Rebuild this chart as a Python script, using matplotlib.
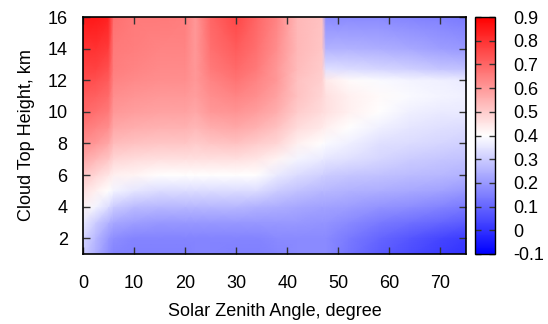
import numpy as np
import matplotlib
matplotlib.use('Agg')
from matplotlib import pyplot as plt

#%% Data
# solar zenith angle nodes (degree)
sza = [0, 2.5, 5, 6, 10, 15, 20, 22, 25, 30, 34, 38, 42, 46.8, 47.6, 52, 58, 64, 70, 75]
# cloud top height nodes (km)
cth = [1, 2, 3, 4, 5, 6, 7, 8, 9, 10, 11, 12, 12.7, 14, 16]

# one row per cloud top height, bottom to top
z_01 = [0.30, 0.24, 0.18, 0.16, 0.15, 0.15, 0.15, 0.16, 0.16, 0.15, 0.15, 0.16, 0.17, 0.17, 0.17, 0.13, 0.08, 0.05, 0.02, 0.00]
z_02 = [0.32, 0.26, 0.20, 0.18, 0.16, 0.16, 0.16, 0.16, 0.16, 0.16, 0.16, 0.17, 0.17, 0.17, 0.17, 0.14, 0.10, 0.07, 0.04, 0.02]
z_03 = [0.36, 0.30, 0.25, 0.23, 0.21, 0.20, 0.20, 0.20, 0.20, 0.20, 0.20, 0.20, 0.20, 0.19, 0.19, 0.17, 0.14, 0.12, 0.10, 0.08]
z_04 = [0.42, 0.38, 0.33, 0.30, 0.27, 0.26, 0.26, 0.26, 0.26, 0.26, 0.25, 0.24, 0.23, 0.22, 0.22, 0.21, 0.19, 0.18, 0.16, 0.14]
z_05 = [0.46, 0.43, 0.40, 0.38, 0.35, 0.33, 0.33, 0.33, 0.33, 0.33, 0.33, 0.30, 0.28, 0.26, 0.26, 0.25, 0.24, 0.23, 0.22, 0.20]
z_06 = [0.51, 0.48, 0.45, 0.43, 0.42, 0.40, 0.40, 0.40, 0.40, 0.40, 0.40, 0.36, 0.33, 0.31, 0.30, 0.29, 0.28, 0.27, 0.26, 0.25]
z_07 = [0.57, 0.54, 0.51, 0.48, 0.47, 0.46, 0.46, 0.46, 0.46, 0.46, 0.45, 0.42, 0.38, 0.36, 0.35, 0.34, 0.32, 0.30, 0.29, 0.28]
z_08 = [0.62, 0.60, 0.57, 0.53, 0.52, 0.51, 0.51, 0.50, 0.51, 0.52, 0.50, 0.48, 0.43, 0.40, 0.39, 0.37, 0.34, 0.33, 0.32, 0.31]
z_09 = [0.66, 0.64, 0.62, 0.57, 0.56, 0.55, 0.55, 0.54, 0.56, 0.57, 0.55, 0.52, 0.47, 0.44, 0.43, 0.40, 0.37, 0.35, 0.34, 0.33]
z_10 = [0.70, 0.68, 0.66, 0.60, 0.59, 0.58, 0.58, 0.57, 0.60, 0.61, 0.59, 0.56, 0.50, 0.47, 0.46, 0.43, 0.40, 0.37, 0.36, 0.36]
z_11 = [0.72, 0.71, 0.69, 0.62, 0.61, 0.60, 0.60, 0.59, 0.62, 0.64, 0.62, 0.58, 0.52, 0.48, 0.46, 0.43, 0.41, 0.39, 0.38, 0.37]
z_12 = [0.75, 0.74, 0.72, 0.64, 0.63, 0.62, 0.62, 0.60, 0.64, 0.67, 0.64, 0.60, 0.52, 0.49, 0.44, 0.41, 0.39, 0.38, 0.37, 0.36]
z_13 = [0.77, 0.77, 0.74, 0.65, 0.64, 0.63, 0.63, 0.60, 0.66, 0.69, 0.66, 0.60, 0.53, 0.50, 0.34, 0.33, 0.32, 0.31, 0.29, 0.28]
z_14 = [0.80, 0.80, 0.78, 0.66, 0.65, 0.64, 0.64, 0.60, 0.68, 0.72, 0.68, 0.62, 0.54, 0.51, 0.25, 0.25, 0.24, 0.23, 0.21, 0.20]
z_16 = [0.85, 0.85, 0.83, 0.68, 0.66, 0.66, 0.65, 0.60, 0.70, 0.76, 0.70, 0.64, 0.54, 0.52, 0.17, 0.17, 0.17, 0.16, 0.15, 0.14]

cb_ticks = [-0.1, 0, 0.1, 0.2, 0.3, 0.4, 0.5, 0.6, 0.7, 0.8, 0.9]
cb_labels = ['-0.1', '0', '0.1', '0.2', '0.3', '0.4', '0.5', '0.6', '0.7', '0.8', '0.9']

#%% Plotting
plt.rcParams['font.family'] = ['Liberation Sans', 'DejaVu Sans']
fs = 13

Z = np.array([z_01, z_02, z_03, z_04, z_05, z_06, z_07, z_08,
              z_09, z_10, z_11, z_12, z_13, z_14, z_16])
X, Y = np.meshgrid(sza, cth)

fig = plt.figure(figsize=(5.48, 3.24), dpi=100)
ax = fig.add_axes([83/548, 70/324, 383/548, 237/324])
cax = fig.add_axes([475/548, 70/324, 20/548, 237/324])

pm = ax.pcolormesh(X, Y, Z, shading='gouraud', cmap='bwr', vmin=-0.1, vmax=0.9)

ax.set_xlim(0, 75)
ax.set_ylim(1, 16)
ax.set_xticks(np.arange(0, 71, 10))
ax.set_yticks(np.arange(2, 17, 2))
ax.tick_params(direction='in', top=True, right=True, length=5, width=1,
               color='#333333', labelsize=fs)
ax.tick_params(axis='x', pad=15)
ax.tick_params(axis='y', pad=11)
for sp in ax.spines.values():
    sp.set_linewidth(1.2)

ax.set_xlabel('Solar Zenith Angle, degree', fontsize=fs, labelpad=8)
ax.set_ylabel('Cloud Top Height, km', fontsize=fs, labelpad=9)

cb = fig.colorbar(pm, cax=cax, ticks=cb_ticks)
cb.ax.set_yticklabels(cb_labels)
cb.ax.tick_params(direction='in', left=True, right=True, length=4, width=1,
                  color='#333333', labelsize=fs, pad=13)
cb.outline.set_linewidth(1.0)

fig.savefig('out.png', dpi=100)
